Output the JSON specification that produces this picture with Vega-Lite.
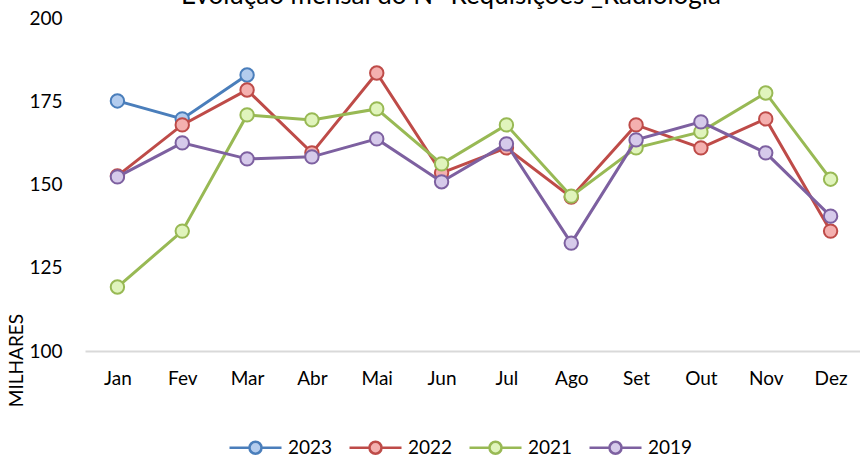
{
  "$schema": "https://vega.github.io/schema/vega-lite/v6.json",
  "width": 778,
  "height": 333,
  "autosize": "none",
  "padding": {"left": 85, "top": 18, "right": 0, "bottom": 105},
  "background": "white",
  "config": {"font": "Lato", "view": {"stroke": null}},
  "title": {
    "text": "Evolução mensal do N° Requisições _Radiologia",
    "fontSize": 26,
    "fontWeight": "normal",
    "color": "#000000",
    "anchor": "middle",
    "frame": "group",
    "baseline": "alphabetic",
    "offset": 4,
    "dx": -23,
    "dy": 25
  },
  "data": {
    "values": [
      {"mes": "Jan", "ano": "2023", "valor": 175.1},
      {"mes": "Fev", "ano": "2023", "valor": 169.7},
      {"mes": "Mar", "ano": "2023", "valor": 182.9},
      {"mes": "Jan", "ano": "2022", "valor": 152.6},
      {"mes": "Fev", "ano": "2022", "valor": 167.9},
      {"mes": "Mar", "ano": "2022", "valor": 178.4},
      {"mes": "Abr", "ano": "2022", "valor": 159.5},
      {"mes": "Mai", "ano": "2022", "valor": 183.5},
      {"mes": "Jun", "ano": "2022", "valor": 153.5},
      {"mes": "Jul", "ano": "2022", "valor": 161.0},
      {"mes": "Ago", "ano": "2022", "valor": 146.2},
      {"mes": "Set", "ano": "2022", "valor": 167.9},
      {"mes": "Out", "ano": "2022", "valor": 161.0},
      {"mes": "Nov", "ano": "2022", "valor": 169.7},
      {"mes": "Dez", "ano": "2022", "valor": 136.0},
      {"mes": "Jan", "ano": "2021", "valor": 119.2},
      {"mes": "Fev", "ano": "2021", "valor": 136.0},
      {"mes": "Mar", "ano": "2021", "valor": 170.9},
      {"mes": "Abr", "ano": "2021", "valor": 169.4},
      {"mes": "Mai", "ano": "2021", "valor": 172.7},
      {"mes": "Jun", "ano": "2021", "valor": 156.2},
      {"mes": "Jul", "ano": "2021", "valor": 167.9},
      {"mes": "Ago", "ano": "2021", "valor": 146.5},
      {"mes": "Set", "ano": "2021", "valor": 161.0},
      {"mes": "Out", "ano": "2021", "valor": 165.8},
      {"mes": "Nov", "ano": "2021", "valor": 177.5},
      {"mes": "Dez", "ano": "2021", "valor": 151.6},
      {"mes": "Jan", "ano": "2019", "valor": 152.3},
      {"mes": "Fev", "ano": "2019", "valor": 162.5},
      {"mes": "Mar", "ano": "2019", "valor": 157.7},
      {"mes": "Abr", "ano": "2019", "valor": 158.3},
      {"mes": "Mai", "ano": "2019", "valor": 163.7},
      {"mes": "Jun", "ano": "2019", "valor": 150.8},
      {"mes": "Jul", "ano": "2019", "valor": 162.2},
      {"mes": "Ago", "ano": "2019", "valor": 132.4},
      {"mes": "Set", "ano": "2019", "valor": 163.4},
      {"mes": "Out", "ano": "2019", "valor": 168.8},
      {"mes": "Nov", "ano": "2019", "valor": 159.5},
      {"mes": "Dez", "ano": "2019", "valor": 140.5}
    ]
  },
  "encoding": {
    "x": {
      "field": "mes",
      "type": "ordinal",
      "sort": ["Jan","Fev","Mar","Abr","Mai","Jun","Jul","Ago","Set","Out","Nov","Dez"],
      "scale": {"type": "point", "padding": 0.5},
      "axis": {
        "title": null,
        "labelAngle": 0,
        "labelFontSize": 19,
        "labelColor": "#000000",
        "labelPadding": 18,
        "ticks": false,
        "domainColor": "#D9D9D9",
        "domainWidth": 2,
        "grid": false
      }
    },
    "y": {
      "field": "valor",
      "type": "quantitative",
      "scale": {"domain": [100, 200], "nice": false, "zero": false},
      "axis": {
        "values": [100, 125, 150, 175, 200],
        "title": "MILHARES",
        "titleFontSize": 19,
        "titleFontWeight": "normal",
        "titleColor": "#000000",
        "titleAngle": -90,
        "titleX": -69,
        "titleY": 342,
        "titleAlign": "center",
        "titleBaseline": "middle",
        "labelFontSize": 19,
        "labelColor": "#000000",
        "labelPadding": 23,
        "domain": false,
        "ticks": false,
        "grid": false
      }
    },
    "stroke": {
      "field": "ano",
      "type": "nominal",
      "scale": {
        "domain": ["2023", "2022", "2021", "2019"],
        "range": ["#4A7EBB", "#BE4B48", "#98B954", "#7D60A0"]
      },
      "legend": {
        "title": null,
        "orient": "none",
        "direction": "horizontal",
        "columns": 4,
        "legendX": 159,
        "legendY": 418,
        "padding": 0,
        "symbolType": "M-2.6,0H-0.6M0.6,0H2.6M-0.6,0A0.6,0.6,0,1,1,0.6,0A0.6,0.6,0,1,1,-0.6,0Z",
        "symbolSize": 400,
        "symbolStrokeWidth": 2.5,
        "labelFontSize": 19,
        "labelColor": "#000000",
        "labelOffset": 21,
        "columnPadding": 11
      }
    }
  },
  "layer": [
    {"transform": [{"filter": "datum.ano == '2023'"}], "mark": {"type": "line", "strokeWidth": 3}},
    {"transform": [{"filter": "datum.ano == '2023'"}], "mark": {"type": "point", "filled": false, "size": 180, "strokeWidth": 2, "opacity": 1}, "encoding": {"fill": {"field": "ano", "type": "nominal", "scale": {"domain": ["2023", "2022", "2021", "2019"], "range": ["#B3CCEE", "#F4B0AF", "#E0F4BC", "#D6CAEA"]}, "legend": null}}},
    {"transform": [{"filter": "datum.ano == '2022'"}], "mark": {"type": "line", "strokeWidth": 3}},
    {"transform": [{"filter": "datum.ano == '2022'"}], "mark": {"type": "point", "filled": false, "size": 180, "strokeWidth": 2, "opacity": 1}, "encoding": {"fill": {"field": "ano", "type": "nominal", "legend": null}}},
    {"transform": [{"filter": "datum.ano == '2021'"}], "mark": {"type": "line", "strokeWidth": 3}},
    {"transform": [{"filter": "datum.ano == '2021'"}], "mark": {"type": "point", "filled": false, "size": 180, "strokeWidth": 2, "opacity": 1}, "encoding": {"fill": {"field": "ano", "type": "nominal", "legend": null}}},
    {"transform": [{"filter": "datum.ano == '2019'"}], "mark": {"type": "line", "strokeWidth": 3}},
    {"transform": [{"filter": "datum.ano == '2019'"}], "mark": {"type": "point", "filled": false, "size": 180, "strokeWidth": 2, "opacity": 1}, "encoding": {"fill": {"field": "ano", "type": "nominal", "legend": null}}}
  ]
}
